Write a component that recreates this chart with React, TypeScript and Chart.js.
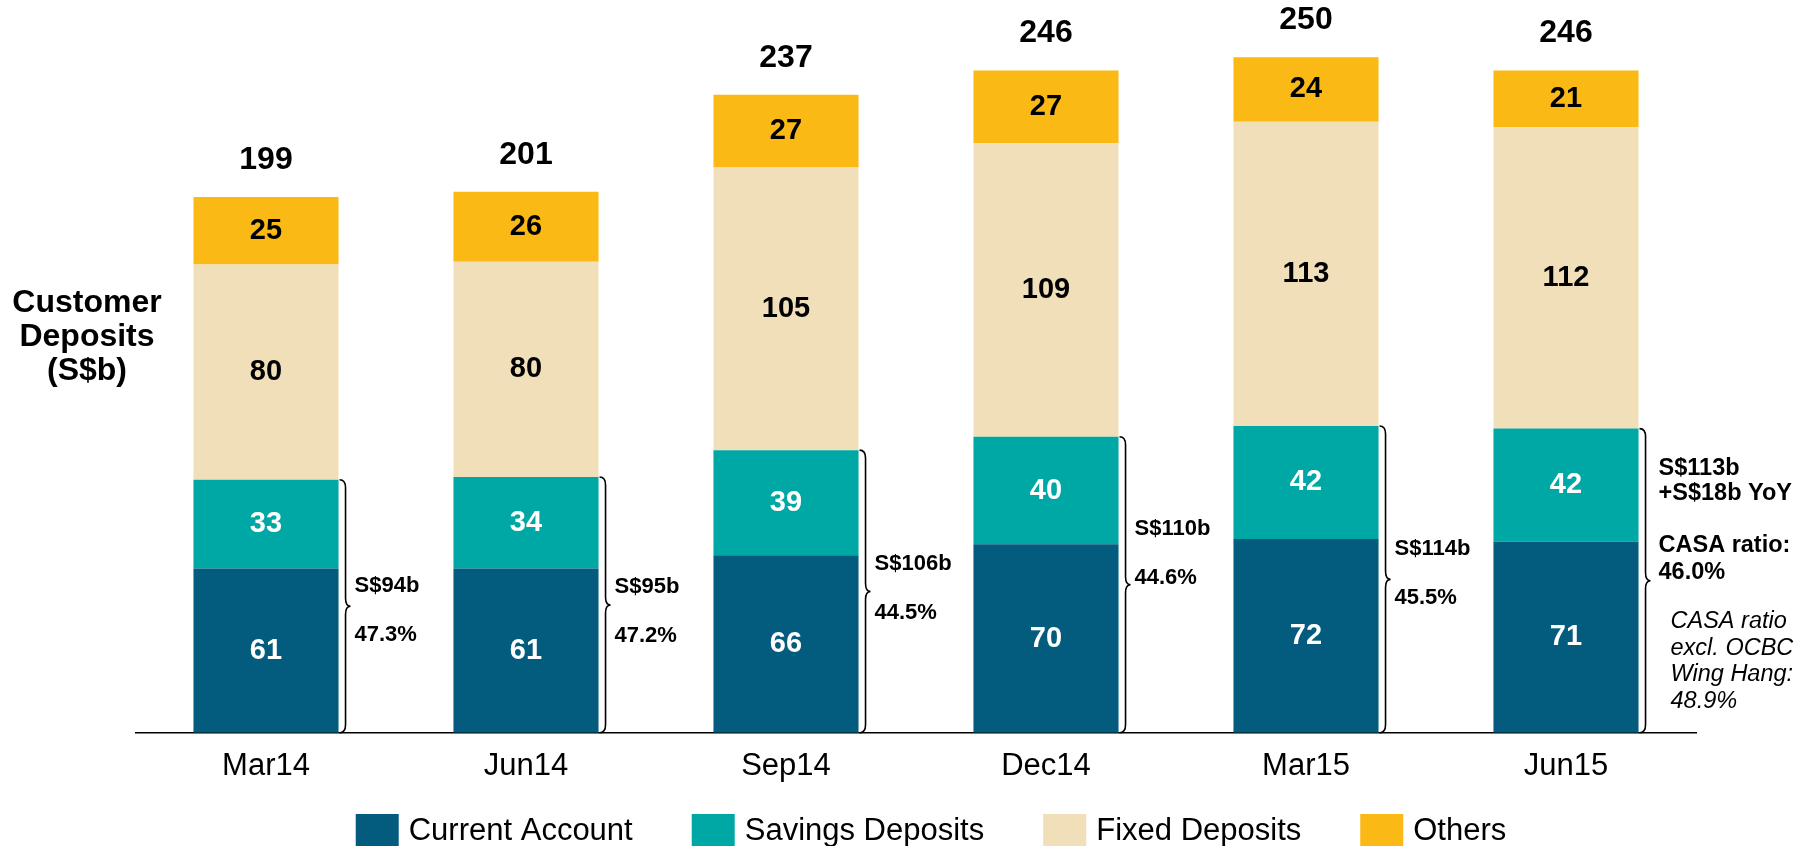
import React, { useEffect, useRef } from "react";
import { Chart, registerables } from "chart.js";

Chart.register(...registerables);

// ---------- data ----------
const categories = ["Mar14", "Jun14", "Sep14", "Dec14", "Mar15", "Jun15"];
const currentAccount = [61, 61, 66, 70, 72, 71];
const savingsDeposits = [33, 34, 39, 40, 42, 42];
const fixedDeposits = [80, 80, 105, 109, 113, 112];
const others = [25, 26, 27, 27, 24, 21];
const totals = [199, 201, 237, 246, 250, 246];
const casaAmounts = ["S$94b", "S$95b", "S$106b", "S$110b", "S$114b", "S$113b"];
const casaRatios = ["47.3%", "47.2%", "44.5%", "44.6%", "45.5%", "46.0%"];
const casaGrowth = "+S$18b YoY";
const casaRatioTitle = "CASA ratio:";
const casaNoteLines = ["CASA ratio", "excl. OCBC", "Wing Hang:", "48.9%"];
const seriesNames = ["Current Account", "Savings Deposits", "Fixed Deposits", "Others"];
const axisTitleLines = ["Customer", "Deposits", "(S$b)"];

// ---------- styles / layout ----------
const FONT = "'Liberation Sans', Arial, Helvetica, sans-serif";
const seriesColors = ["#035B7E", "#00A8A5", "#F0DFB9", "#FBB915"];
const labelColors = ["#FFFFFF", "#FFFFFF", "#000000", "#000000"];
const annotationNudgePx = [4, 7, -3, -31, -6];
const legendCenterX = 931;

function drawBrace(ctx: CanvasRenderingContext2D, x0: number, yT: number, yB: number) {
  const w = 6;
  const tip = 11;
  const r = 8;
  const yM = (yT + yB) / 2;
  ctx.beginPath();
  ctx.moveTo(x0, yT);
  ctx.quadraticCurveTo(x0 + w, yT, x0 + w, yT + r);
  ctx.lineTo(x0 + w, yM - r);
  ctx.quadraticCurveTo(x0 + w, yM, x0 + tip, yM);
  ctx.quadraticCurveTo(x0 + w, yM, x0 + w, yM + r);
  ctx.lineTo(x0 + w, yB - r);
  ctx.quadraticCurveTo(x0 + w, yB, x0, yB);
  ctx.strokeStyle = "#000";
  ctx.lineWidth = 1.6;
  ctx.stroke();
}

const annotationPlugin = {
  id: "annotations",
  afterDatasetsDraw(chart: any) {
    const ctx: CanvasRenderingContext2D = chart.ctx;
    const yScale = chart.scales.y;
    ctx.save();

    // segment value labels
    chart.data.datasets.forEach((ds: any, di: number) => {
      const meta = chart.getDatasetMeta(di);
      meta.data.forEach((bar: any, i: number) => {
        ctx.fillStyle = labelColors[di];
        ctx.font = `bold 29px ${FONT}`;
        ctx.textAlign = "center";
        ctx.textBaseline = "middle";
        ctx.fillText(String(ds.data[i]), bar.x, (bar.y + bar.base) / 2);
      });
    });

    // totals
    const topMeta = chart.getDatasetMeta(chart.data.datasets.length - 1);
    topMeta.data.forEach((bar: any, i: number) => {
      ctx.fillStyle = "#000";
      ctx.font = `bold 32px ${FONT}`;
      ctx.textAlign = "center";
      ctx.textBaseline = "middle";
      ctx.fillText(String(totals[i]), bar.x, bar.y - 37);
    });

    // CASA braces and annotations
    const baseMeta = chart.getDatasetMeta(0);
    baseMeta.data.forEach((bar: any, i: number) => {
      const right = bar.x + bar.width / 2;
      const yT = yScale.getPixelForValue(currentAccount[i] + savingsDeposits[i]);
      const yB = yScale.getPixelForValue(0);
      const yM = (yT + yB) / 2;
      drawBrace(ctx, right + 1, yT, yB);
      ctx.fillStyle = "#000";
      ctx.textAlign = "left";
      ctx.textBaseline = "middle";
      if (i < categories.length - 1) {
        ctx.font = `bold 22px ${FONT}`;
        const c = yM + (annotationNudgePx[i] || 0);
        ctx.fillText(casaAmounts[i], right + 16, c - 24.5);
        ctx.fillText(casaRatios[i], right + 16, c + 24.5);
      } else {
        const tx = right + 20;
        ctx.font = `bold 23.5px ${FONT}`;
        ctx.fillText(casaAmounts[i], tx, yM - 112);
        ctx.fillText(casaGrowth, tx, yM - 87);
        ctx.fillText(casaRatioTitle, tx, yM - 35);
        ctx.fillText(casaRatios[i], tx, yM - 8);
        ctx.font = `italic 23.5px ${FONT}`;
        casaNoteLines.forEach((line, k) => {
          ctx.fillText(line, tx + 12, yM + 41 + k * 26.5);
        });
      }
    });

    // left axis title
    ctx.fillStyle = "#000";
    ctx.font = `bold 32px ${FONT}`;
    ctx.textAlign = "center";
    ctx.textBaseline = "middle";
    axisTitleLines.forEach((line, k) => {
      ctx.fillText(line, 87, 303 + k * 34);
    });

    // legend
    ctx.font = `31px ${FONT}`;
    const boxW = 43;
    const boxH = 34;
    const gapBoxText = 10;
    const gapItems = 59;
    const widths = seriesNames.map((n) => ctx.measureText(n).width);
    const total =
      widths.reduce((a, b) => a + b, 0) + seriesNames.length * (boxW + gapBoxText) + (seriesNames.length - 1) * gapItems;
    let x = legendCenterX - total / 2;
    const boxTop = 814;
    seriesNames.forEach((name, k) => {
      ctx.fillStyle = seriesColors[k];
      ctx.fillRect(x, boxTop, boxW, boxH);
      x += boxW + gapBoxText;
      ctx.fillStyle = "#000";
      ctx.textAlign = "left";
      ctx.textBaseline = "alphabetic";
      ctx.fillText(name, x, 840);
      x += widths[k] + gapItems;
    });

    ctx.restore();
  },
};

export default function App() {
  const canvasRef = useRef<HTMLCanvasElement | null>(null);

  useEffect(() => {
    if (!canvasRef.current) return;
    const series = [currentAccount, savingsDeposits, fixedDeposits, others];
    const chart = new Chart(canvasRef.current, {
      type: "bar",
      data: {
        labels: categories,
        datasets: series.map((data, k) => ({
          label: seriesNames[k],
          data,
          backgroundColor: seriesColors[k],
          borderWidth: 0,
          barPercentage: 0.558,
          categoryPercentage: 1,
        })),
      },
      options: {
        responsive: false,
        animation: false,
        devicePixelRatio: 1,
        layout: { padding: { left: 136, right: 113, top: 6, bottom: 46 } },
        plugins: {
          legend: { display: false },
          tooltip: { enabled: false },
          title: { display: false },
        },
        scales: {
          x: {
            stacked: true,
            grid: { display: false, drawTicks: false },
            border: { display: true, color: "#000", width: 1.5 },
            ticks: {
              color: "#000",
              padding: 15,
              font: { family: FONT, size: 31 },
            },
          },
          y: {
            stacked: true,
            display: false,
            min: 0,
            max: 270,
          },
        },
      },
      plugins: [annotationPlugin],
    });
    return () => chart.destroy();
  }, []);

  return (
    <div style={{ position: "fixed", left: 0, top: 0, width: 1809, height: 846, background: "#fff" }}>
      <canvas ref={canvasRef} width={1809} height={846} style={{ display: "block", width: 1809, height: 846 }} />
    </div>
  );
}
